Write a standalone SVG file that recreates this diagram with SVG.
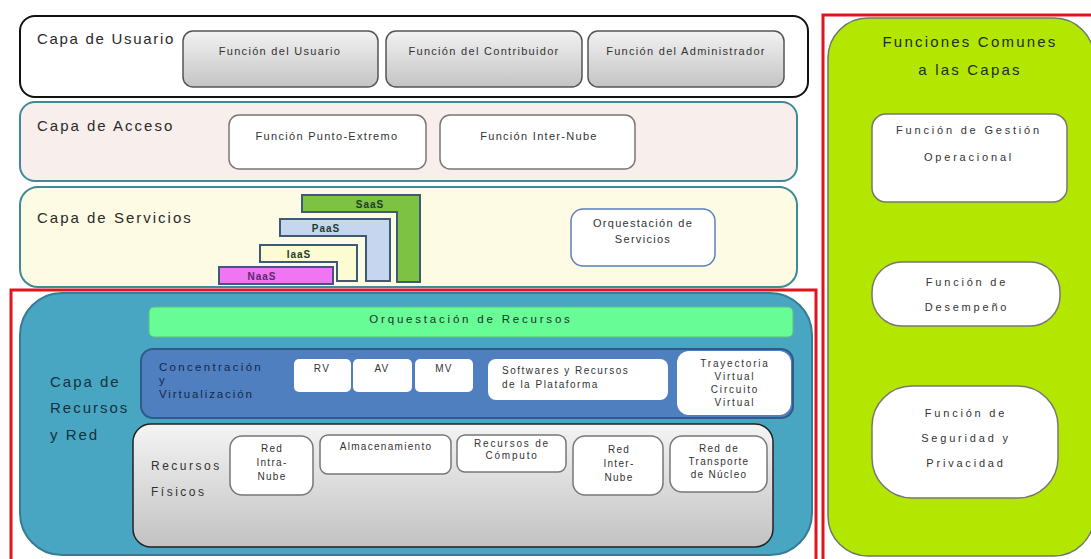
<svg xmlns="http://www.w3.org/2000/svg" width="1091" height="559" viewBox="0 0 1091 559">
<defs>
<linearGradient id="gGrey" x1="0" y1="0" x2="0" y2="1">
<stop offset="0" stop-color="#f2f2f2"/><stop offset="1" stop-color="#c4c4c4"/>
</linearGradient>
<linearGradient id="gFis" x1="0" y1="0" x2="0" y2="1">
<stop offset="0" stop-color="#f4f4f4"/><stop offset="1" stop-color="#c2c2c2"/>
</linearGradient>
<style>
text{font-family:"Liberation Sans",Arial,sans-serif;fill:#222}
.lay{font-size:15px;fill:#2a2a2a;letter-spacing:2px}
.sm{font-size:11px;fill:#333;letter-spacing:1.3px}
.xs{font-size:10px;fill:#333;letter-spacing:1.3px}
.rt{font-size:11px;fill:#333;letter-spacing:2.8px}
.c{text-anchor:middle}
.fn{fill:url(#gGrey);stroke:#555;stroke-width:1.5}
.wb{fill:#fff;stroke:#777;stroke-width:1.5}
.wn{fill:#fff;stroke:none}
.red{fill:none;stroke:#e0141e;stroke-width:3}
.bold{font-weight:bold;font-size:10px;fill:#1f3b2a;letter-spacing:1px}
</style>
</defs>
<rect width="1091" height="559" fill="#fff"/>

<g id="capa-usuario">
<rect x="20" y="16" width="788" height="81" rx="15" fill="#fff" stroke="#111" stroke-width="2"/>
<text class="lay" x="37" y="44" style="letter-spacing:1.7px">Capa de Usuario</text>
</g>
<g id="func-usuario"><rect class="fn" x="183" y="31" width="195" height="56" rx="10"/><text class="sm c" x="280" y="55">Función del Usuario</text></g>
<g id="func-contrib"><rect class="fn" x="386" y="31" width="196" height="56" rx="10"/><text class="sm c" x="484" y="55">Función del Contribuidor</text></g>
<g id="func-admin"><rect class="fn" x="588" y="31" width="196" height="56" rx="10"/><text class="sm c" x="686" y="55">Función del Administrador</text></g>

<g id="capa-acceso">
<rect x="20" y="102" width="777" height="79" rx="15" fill="#f8efed" stroke="#3f8a96" stroke-width="2"/>
<text class="lay" x="37" y="131">Capa de Acceso</text>
</g>
<g id="func-punto"><rect class="wb" x="229" y="115" width="197" height="54" rx="10"/><text class="sm c" x="327" y="140">Función Punto-Extremo</text></g>
<g id="func-inter"><rect class="wb" x="440" y="115" width="195" height="54" rx="10"/><text class="sm c" x="539" y="140">Función Inter-Nube</text></g>

<g id="capa-servicios">
<rect x="20" y="187" width="777" height="100" rx="18" fill="#fdfbe4" stroke="#3f8a96" stroke-width="2"/>
<text class="lay" x="37" y="223">Capa de Servicios</text>
</g>
<g id="saas"><path d="M302 195H420V282H397V212H302Z" fill="#7dc242" stroke="#3d5a78" stroke-width="2"/><text class="bold c" x="370" y="208">SaaS</text></g>
<g id="paas"><path d="M280 219H390V281H366V236H280Z" fill="#c6d6ef" stroke="#3d5a78" stroke-width="2"/><text class="bold c" x="326" y="232">PaaS</text></g>
<g id="iaas"><path d="M260 245H357V281H337V262H260Z" fill="#fdfbd2" stroke="#3d5a78" stroke-width="2"/><text class="bold c" x="299" y="258">IaaS</text></g>
<g id="naas"><rect x="219" y="267" width="114" height="17" fill="#f075f2" stroke="#3d5a78" stroke-width="2"/><text class="bold c" x="262" y="280" style="fill:#5a2a6a">NaaS</text></g>
<g id="orq-serv"><rect x="571" y="209" width="144" height="57" rx="12" fill="#fff" stroke="#5b7fbf" stroke-width="1.5"/><text class="sm c" x="643" y="227">Orquestación de</text><text class="sm c" x="643" y="243">Servicios</text></g>

<g id="capa-recursos">
<rect x="20" y="293" width="792" height="262" rx="42" fill="#48a6c2" stroke="#377c92" stroke-width="2"/>
<text class="lay" x="50" y="387" style="fill:#15323f">Capa de</text>
<text class="lay" x="50" y="413" style="fill:#15323f">Recursos</text>
<text class="lay" x="50" y="440" style="fill:#15323f">y Red</text>
</g>
<g id="orq-rec"><rect x="149" y="307" width="644" height="30" rx="5" fill="#68fc96" stroke="#5ac07e" stroke-width="1"/><text class="c" x="471" y="323" style="font-size:11.5px;fill:#1f2f2a;letter-spacing:2.8px">Orquestación de Recursos</text></g>

<g id="concentracion">
<rect x="141" y="349" width="652" height="69" rx="12" fill="#4f7fbf" stroke="#2f5a8a" stroke-width="2"/>
<text x="159" y="371" style="font-size:11.5px;fill:#15284a;letter-spacing:2.3px">Concentración</text>
<text x="159" y="384" style="font-size:11.5px;fill:#15284a">y</text>
<text x="159" y="398" style="font-size:11.5px;fill:#15284a;letter-spacing:1.9px">Virtualización</text>
</g>
<g id="rv"><rect class="wn" x="294" y="359" width="57" height="33" rx="5"/><text class="xs c" x="322" y="372">RV</text></g>
<g id="av"><rect class="wn" x="353" y="359" width="59" height="33" rx="5"/><text class="xs c" x="382" y="372">AV</text></g>
<g id="mv"><rect class="wn" x="415" y="359" width="58" height="33" rx="5"/><text class="xs c" x="444" y="372">MV</text></g>
<g id="softwares"><rect class="wn" x="488" y="359" width="180" height="41" rx="8"/><text class="xs" x="502" y="374" style="letter-spacing:1.5px">Softwares y Recursos</text><text class="xs" x="502" y="388" style="letter-spacing:1.5px">de la Plataforma</text></g>
<g id="trayectoria"><rect class="wn" x="677" y="351" width="114" height="64" rx="12"/>
<text class="xs c" x="735" y="367" style="letter-spacing:1.8px">Trayectoria</text><text class="xs c" x="735" y="380" style="letter-spacing:1.8px">Virtual</text><text class="xs c" x="735" y="393" style="letter-spacing:1.8px">Circuito</text><text class="xs c" x="735" y="406" style="letter-spacing:1.8px">Virtual</text></g>

<g id="recursos-fisicos">
<rect x="133" y="424" width="640" height="123" rx="18" fill="url(#gFis)" stroke="#222" stroke-width="1.5"/>
<text x="151" y="470" style="font-size:12px;fill:#333;letter-spacing:2.5px">Recursos</text>
<text x="151" y="496" style="font-size:12px;fill:#333;letter-spacing:2.5px">Físicos</text>
</g>
<g id="red-intra"><rect class="wb" x="230" y="436" width="83" height="59" rx="12"/><text class="xs c" x="272" y="452">Red</text><text class="xs c" x="272" y="466">Intra-</text><text class="xs c" x="272" y="480">Nube</text></g>
<g id="almac"><rect class="wb" x="320" y="435" width="131" height="39" rx="8"/><text class="xs c" x="386" y="450">Almacenamiento</text></g>
<g id="computo"><rect class="wb" x="457" y="435" width="109" height="37" rx="8"/><text class="xs c" x="512" y="447" style="letter-spacing:1.8px">Recursos de</text><text class="xs c" x="512" y="459" style="letter-spacing:1.8px">Cómputo</text></g>
<g id="red-inter"><rect class="wb" x="573" y="436" width="90" height="59" rx="12"/><text class="xs c" x="619" y="453">Red</text><text class="xs c" x="619" y="467">Inter-</text><text class="xs c" x="619" y="481">Nube</text></g>
<g id="red-transporte"><rect class="wb" x="670" y="436" width="97" height="56" rx="12"/><text class="xs c" x="719" y="452">Red de</text><text class="xs c" x="719" y="465">Transporte</text><text class="xs c" x="719" y="478">de Núcleo</text></g>

<g id="funciones-comunes">
<rect x="828" y="18" width="266" height="538" rx="40" fill="#b3e600" stroke="#6a7a6a" stroke-width="1.5"/>
<text x="970" y="47" class="c" style="font-size:15px;fill:#1e2e1e;letter-spacing:2.2px">Funciones Comunes</text>
<text x="970" y="75" class="c" style="font-size:15px;fill:#1e2e1e;letter-spacing:2.2px">a las Capas</text>
</g>
<g id="gestion"><rect class="wb" x="872" y="114" width="195" height="88" rx="14"/><text class="rt c" x="969" y="134">Función de Gestión</text><text class="rt c" x="969" y="161">Operacional</text></g>
<g id="desempeno"><rect class="wb" x="872" y="262" width="188" height="64" rx="30"/><text class="rt c" x="967" y="286">Función de</text><text class="rt c" x="967" y="311">Desempeño</text></g>
<g id="seguridad"><rect class="wb" x="872" y="386" width="186" height="112" rx="40"/><text class="rt c" x="966" y="417">Función de</text><text class="rt c" x="966" y="442">Seguridad y</text><text class="rt c" x="966" y="467">Privacidad</text></g>

<g id="frames">
<rect class="red" x="11" y="290" width="805" height="280"/>
<rect class="red" x="823" y="15" width="280" height="560"/>
</g>
<g id="connectors"/>
</svg>
